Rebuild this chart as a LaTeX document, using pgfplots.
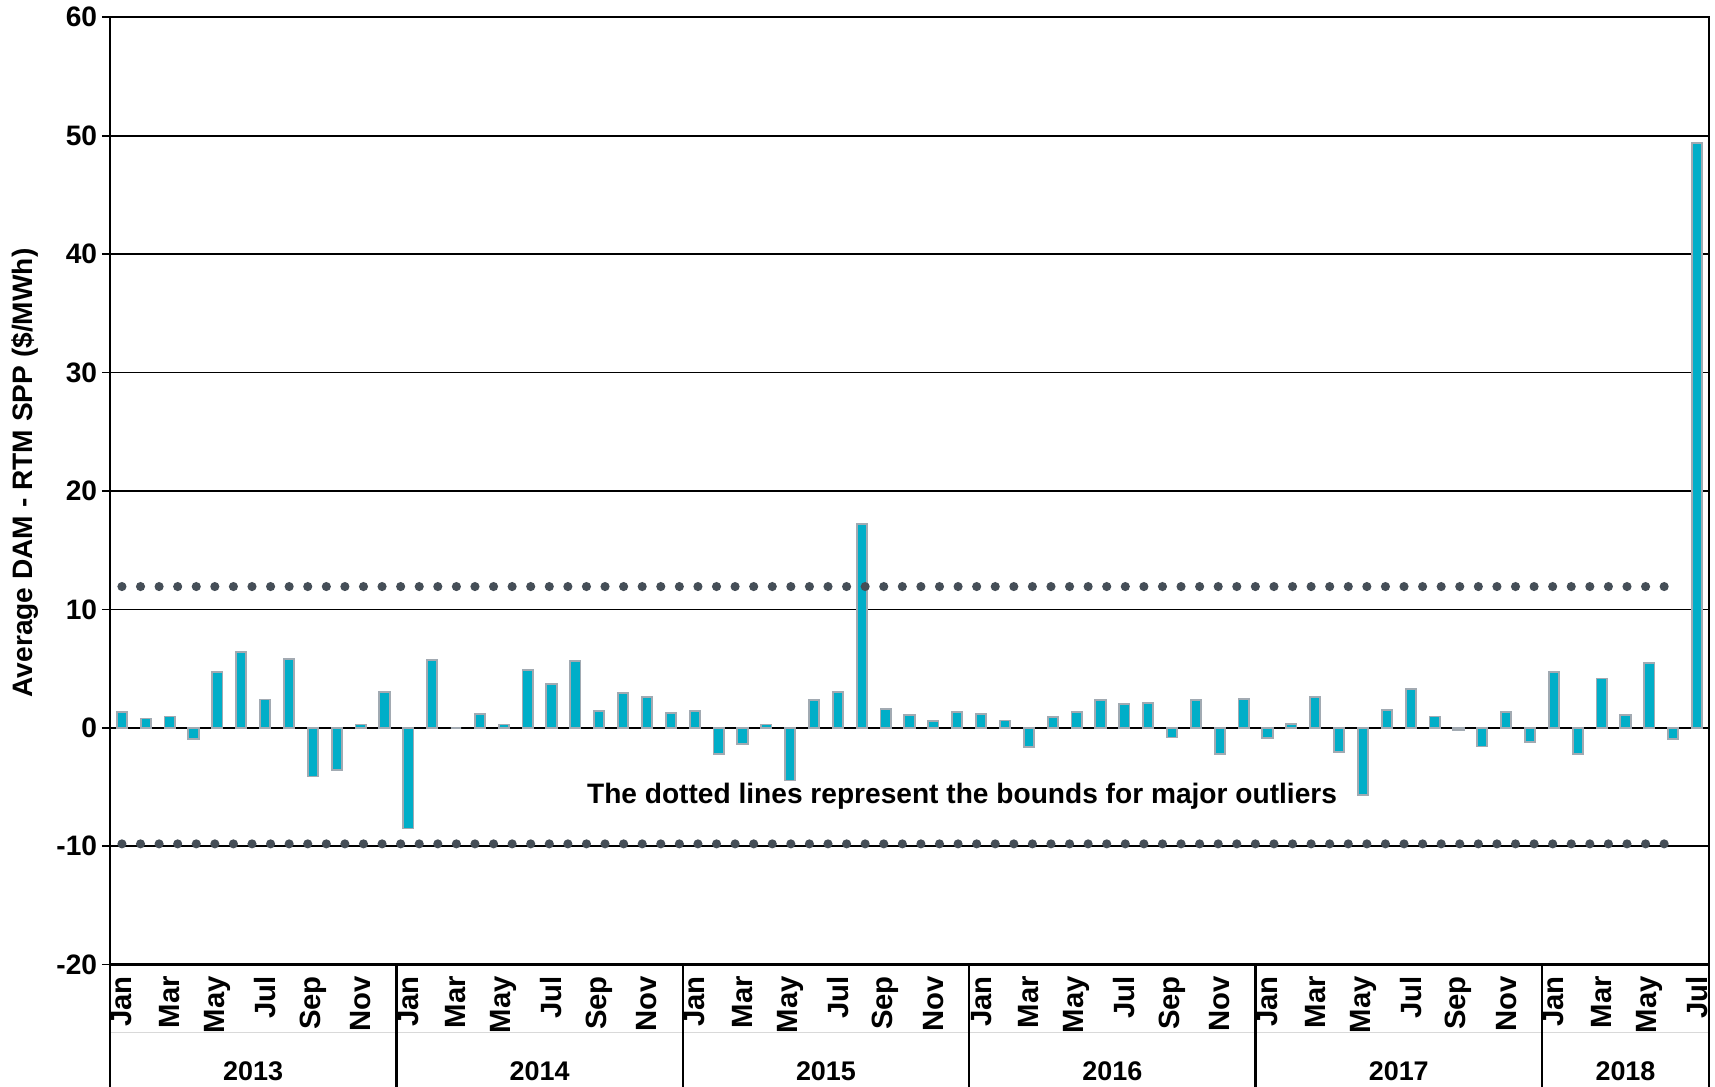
\documentclass[border=0pt]{standalone}
\usepackage{fontspec}
\setmainfont{Liberation Sans}
\usepackage{pgfplots}
\pgfplotsset{compat=1.18}
\definecolor{barfill}{RGB}{0,174,200}
\definecolor{baredge}{RGB}{162,170,178}
\definecolor{dotgray}{RGB}{69,78,87}

\begin{document}
\begin{tikzpicture}
\begin{axis}[
  name=ax,
  scale only axis, width=23.985cm, height=14.21cm,
  xmin=-0.5, xmax=66.5, ymin=-20, ymax=60,
  ytick={-20,-10,...,60},
  ymajorgrids, grid style={black, line width=0.7pt},
  axis line style={black, line width=1pt},
  ytick pos=left, tick align=outside, major tick length=1.2mm,
  ytick style={black, line width=0.7pt},
  /pgf/number format/assume math mode=true,
  yticklabel style={font=\fontsize{12}{14}\bfseries, xshift=0.5mm},
  xtick={0,2,...,66},
  % every other month is labelled, 2018 stops at July
  xticklabels={Jan,Mar,May,Jul,Sep,Nov,Jan,Mar,May,Jul,Sep,Nov,Jan,Mar,May,Jul,Sep,Nov,
               Jan,Mar,May,Jul,Sep,Nov,Jan,Mar,May,Jul,Sep,Nov,Jan,Mar,May,Jul},
  xtick style={draw=none},
  xticklabel shift=-0.7mm,
  xticklabel style={rotate=90, anchor=east, font=\fontsize{12.5}{14}\bfseries},
  ylabel={Average DAM - RTM SPP (\$/MWh)},
  ylabel style={font=\fontsize{12}{14}\bfseries, at={(rel axis cs:-0.053,0.519)}, anchor=center},
  clip=false,
]
% monthly averages, Jan 2013 .. Jul 2018, plotted at 0..66
\addplot[ybar, bar width=0.43, fill=barfill, draw=baredge, line width=0.8pt] coordinates {
  (0,1.30) (1,0.79) (2,0.96) (3,-0.96) (4,4.73) (5,6.37) (6,2.39) (7,5.83) (8,-4.11) (9,-3.58) (10,0.28) (11,2.99)
  (12,-8.50) (13,5.72) (14,0.00) (15,1.18) (16,0.28) (17,4.85) (18,3.69) (19,5.66) (20,1.44) (21,2.93) (22,2.59) (23,1.27)
  (24,1.42) (25,-2.18) (26,-1.33) (27,0.28) (28,-4.45) (29,2.38) (30,3.06) (31,17.20) (32,1.61) (33,1.10) (34,0.57) (35,1.30)
  (36,1.16) (37,0.62) (38,-1.61) (39,0.93) (40,1.33) (41,2.35) (42,1.98) (43,2.12) (44,-0.82) (45,2.35) (46,-2.20) (47,2.46)
  (48,-0.84) (49,0.34) (50,2.59) (51,-2.06) (52,-5.69) (53,1.49) (54,3.30) (55,0.96) (56,-0.15) (57,-1.58) (58,1.35) (59,-1.21)
  (60,4.68) (61,-2.20) (62,4.17) (63,1.07) (64,5.49) (65,-0.93) (66,49.40)
};
% outlier bounds
\addplot[dotgray, line width=3.9pt, line cap=round, dash pattern=on 0pt off 7.93pt, mark=none]
  coordinates {(0,11.93) (65,11.93)};
\addplot[dotgray, line width=3.9pt, line cap=round, dash pattern=on 0pt off 7.93pt, mark=none]
  coordinates {(0,-9.80) (65,-9.80)};

\node[font=\fontsize{12}{14}\bfseries] at (axis cs:35.2,-5.74)
  {The dotted lines represent the bounds for major outliers};

% year band under the month labels
\draw[gray!30, line width=0.5pt] ([yshift=-10.2mm]axis cs:-0.5,-20) -- ([yshift=-10.2mm]axis cs:66.5,-20);
\pgfplotsinvokeforeach{-0.5,11.5,23.5,35.5,47.5,59.5,66.5}{
  \draw[black, line width=1pt] (axis cs:#1,-20) -- ([yshift=-1.9cm]axis cs:#1,-20);
}
\node[font=\fontsize{11.5}{13}\bfseries] at ([yshift=-16.05mm]axis cs:5.5,-20) {2013};
\node[font=\fontsize{11.5}{13}\bfseries] at ([yshift=-16.05mm]axis cs:17.5,-20) {2014};
\node[font=\fontsize{11.5}{13}\bfseries] at ([yshift=-16.05mm]axis cs:29.5,-20) {2015};
\node[font=\fontsize{11.5}{13}\bfseries] at ([yshift=-16.05mm]axis cs:41.5,-20) {2016};
\node[font=\fontsize{11.5}{13}\bfseries] at ([yshift=-16.05mm]axis cs:53.5,-20) {2017};
\node[font=\fontsize{11.5}{13}\bfseries] at ([yshift=-16.05mm]axis cs:63,-20) {2018};
\end{axis}
\pgfresetboundingbox
\path ([xshift=-1.65cm,yshift=-1.83cm]ax.south west) rectangle ([xshift=0.09cm,yshift=0.26cm]ax.north east);
\end{tikzpicture}
\end{document}
